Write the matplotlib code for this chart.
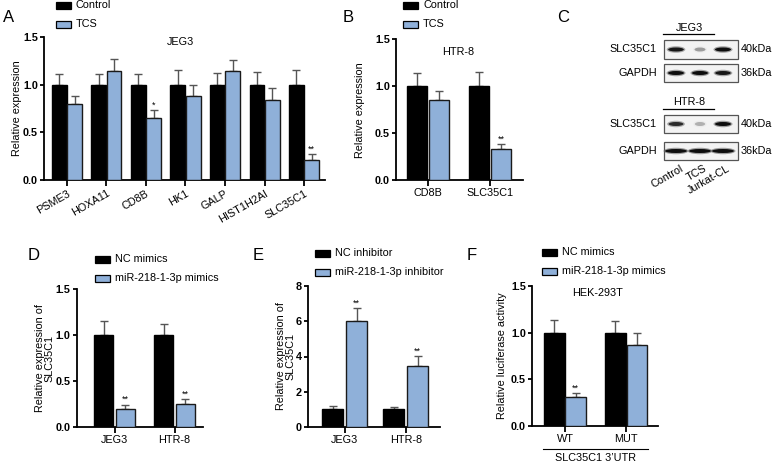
import matplotlib
matplotlib.use('Agg')
import matplotlib.pyplot as plt
from matplotlib.patches import Rectangle, Ellipse
import numpy as np

plt.rcParams['font.family'] = ['Liberation Sans', 'DejaVu Sans']

# ---------------- data ----------------
genes_A = ['PSME3', 'HOXA11', 'CD8B', 'HK1', 'GALP', 'HIST1H2AI', 'SLC35C1']
ctrl_A = [1.0, 1.0, 1.0, 1.0, 1.0, 1.0, 1.0]
ctrl_A_err = [0.11, 0.11, 0.11, 0.15, 0.12, 0.13, 0.15]
tcs_A = [0.80, 1.14, 0.655, 0.876, 1.14, 0.834, 0.21]
tcs_A_err = [0.083, 0.13, 0.075, 0.124, 0.115, 0.126, 0.06]
sig_A = ['', '', '*', '', '', '', '**']

genes_B = ['CD8B', 'SLC35C1']
ctrl_B = [1.0, 1.0]
ctrl_B_err = [0.135, 0.15]
tcs_B = [0.85, 0.33]
tcs_B_err = [0.10, 0.05]
sig_B = ['', '**']

cells = ['JEG3', 'HTR-8']
nc_mimic_D = [1.0, 1.0]
nc_mimic_D_err = [0.147, 0.12]
mimic_D = [0.20, 0.255]
mimic_D_err = [0.044, 0.045]
sig_D = ['**', '**']

nc_inh_E = [1.0, 1.0]
nc_inh_E_err = [0.17, 0.12]
inh_E = [6.0, 3.47]
inh_E_err = [0.73, 0.56]
sig_E = ['**', '**']

utr = ['WT', 'MUT']
nc_mimic_F = [1.0, 1.0]
nc_mimic_F_err = [0.14, 0.13]
mimic_F = [0.31, 0.87]
mimic_F_err = [0.045, 0.13]
sig_F = ['**', '']

blot_lanes = ['Control', 'TCS', 'Jurkat-CL']
jeg3_slc = [0.95, 0.30, 1.0]
jeg3_gapdh = [1.0, 1.0, 0.95]
htr8_slc = [0.85, 0.20, 1.0]
htr8_gapdh = [1.0, 1.0, 1.0]

# ---------------- layout ----------------
W, H = 777, 463
fig = plt.figure(figsize=(W / 100, H / 100), dpi=100)
BLUE = '#8fb0d9'
FS = 7.8


def ax_px(l, r, t, b):
    return fig.add_axes([l / W, 1 - b / H, (r - l) / W, (b - t) / H])


def style(ax, ylim, yticks, xlim, xlabels, rot=0):
    ax.set_ylim(*ylim)
    ax.set_yticks(yticks)
    ax.set_xlim(*xlim)
    ax.set_xticks(np.arange(len(xlabels)))
    if rot:
        ax.set_xticklabels(xlabels, rotation=rot, ha='right', rotation_mode='anchor', fontsize=FS)
    else:
        ax.set_xticklabels(xlabels, fontsize=FS)
    for s in ['top', 'right']:
        ax.spines[s].set_visible(False)
    for s in ['left', 'bottom']:
        ax.spines[s].set_linewidth(1.3)
    ax.tick_params(axis='y', direction='out', length=3, width=1.3, labelsize=FS, pad=1.5)
    ax.tick_params(axis='x', direction='out', length=4, width=1.3, labelsize=FS, pad=2)
    if yticks[-1] < 2:
        ax.set_yticklabels([f'{v:.1f}' for v in yticks])
    for t in ax.get_yticklabels():
        t.set_fontweight('bold')


def bars(ax, v1, e1, v2, e2, width, off, sig, fs_star=6.5):
    n = len(v1)
    x = np.arange(n)
    ax.bar(x - off, v1, width, color='black', edgecolor='black', lw=1.0, zorder=3)
    ax.bar(x + off, v2, width, color=BLUE, edgecolor='#1a1a1a', lw=1.0, zorder=3)
    ax.errorbar(x - off, v1, yerr=[np.zeros(n), e1], fmt='none', ecolor='#555555',
                elinewidth=1.0, capsize=3, capthick=1.0, zorder=2)
    ax.errorbar(x + off, v2, yerr=[np.zeros(n), e2], fmt='none', ecolor='#555555',
                elinewidth=1.0, capsize=3, capthick=1.0, zorder=2)
    for xi, v, e, s in zip(x + off, v2, e2, sig):
        if s:
            ax.annotate(s, (xi, v + e), xytext=(0, 0.3), textcoords='offset points',
                        ha='center', va='bottom', fontsize=fs_star)


# Panel A
axA = ax_px(44, 325, 37, 180)
bars(axA, ctrl_A, ctrl_A_err, tcs_A, tcs_A_err, 0.37, 0.195, sig_A)
style(axA, (0, 1.5), [0.0, 0.5, 1.0, 1.5], (-0.58, 6.53), genes_A, rot=30)
axA.text(0.484, 0.965, 'JEG3', transform=axA.transAxes, ha='center', va='center', fontsize=FS)

# Panel B
axB = ax_px(396, 523, 39, 180)
bars(axB, ctrl_B, ctrl_B_err, tcs_B, tcs_B_err, 0.32, 0.18, sig_B)
style(axB, (0, 1.5), [0.0, 0.5, 1.0, 1.5], (-0.52, 1.53), genes_B)
axB.text(0.49, 0.91, 'HTR-8', transform=axB.transAxes, ha='center', va='center', fontsize=FS)

# Panel D
axD = ax_px(77, 203, 289, 427)
bars(axD, nc_mimic_D, nc_mimic_D_err, mimic_D, mimic_D_err, 0.32, 0.183, sig_D)
style(axD, (0, 1.5), [0.0, 0.5, 1.0, 1.5], (-0.625, 1.475), cells)

# Panel E
axE = ax_px(308, 440, 286, 427)
bars(axE, nc_inh_E, nc_inh_E_err, inh_E, inh_E_err, 0.34, 0.195, sig_E)
style(axE, (0, 8), [0, 2, 4, 6, 8], (-0.6, 1.56), cells)

# Panel F
axF = ax_px(532, 658, 286, 426)
bars(axF, nc_mimic_F, nc_mimic_F_err, mimic_F, mimic_F_err, 0.34, 0.175, sig_F)
style(axF, (0, 1.5), [0.0, 0.5, 1.0, 1.5], (-0.54, 1.52), utr)
axF.text(0.52, 0.95, 'HEK-293T', transform=axF.transAxes, ha='center', va='center', fontsize=FS)
axF.plot([-0.36, 1.36], [-0.164, -0.164], transform=axF.get_xaxis_transform(),
         color='black', lw=0.8, clip_on=False)
axF.text(0.5, -0.23, 'SLC35C1 3\u2019UTR', transform=axF.get_xaxis_transform(),
         ha='center', va='center', fontsize=FS)

# ---------------- overlay (pixel coordinates) ----------------
ov = fig.add_axes([0, 0, 1, 1])
ov.set_xlim(0, W)
ov.set_ylim(H, 0)
ov.set_axis_off()


def legend_px(x, ys, labels, colors):
    for y, lab, col in zip(ys, labels, colors):
        ov.add_patch(Rectangle((x, y - 3.5), 15, 7, facecolor=col, edgecolor='black', lw=0.9))
        ov.text(x + 20, y, lab, ha='left', va='center', fontsize=FS)


legend_px(56, [5, 24], ['Control', 'TCS'], ['black', BLUE])
legend_px(403, [5, 24], ['Control', 'TCS'], ['black', BLUE])
legend_px(95, [259, 278], ['NC mimics', 'miR-218-1-3p mimics'], ['black', BLUE])
legend_px(315, [253, 272], ['NC inhibitor', 'miR-218-1-3p inhibitor'], ['black', BLUE])
legend_px(542, [252, 271], ['NC mimics', 'miR-218-1-3p mimics'], ['black', BLUE])

# panel letters
for lab, x, y in [('A', 3, 18), ('B', 343, 18), ('C', 557, 18), ('D', 28, 256), ('E', 253, 256), ('F', 467, 256)]:
    ov.text(x, y, lab, ha='left', va='center', fontsize=12)

# y labels
ov.text(17, 108, 'Relative expression', rotation=90, ha='center', va='center', fontsize=FS)
ov.text(360, 110, 'Relative expression', rotation=90, ha='center', va='center', fontsize=FS)
ov.text(45, 358, 'Relative expression of\nSLC35C1', rotation=90, ha='center', va='center',
        fontsize=FS, linespacing=0.95)
ov.text(286, 356, 'Relative expression of\nSLC35C1', rotation=90, ha='center', va='center',
        fontsize=FS, linespacing=0.95)
ov.text(502, 356, 'Relative luciferase activity', rotation=90, ha='center', va='center', fontsize=FS)

# ---------------- panel C: western blot ----------------
lane_x = [676, 700, 723]


def blot(y_top, y_bot, vals, bw, name, kda):
    ov.add_patch(Rectangle((664, y_top), 74, y_bot - y_top, facecolor='#f3f3f3',
                           edgecolor='#555555', lw=0.9))
    yc = (y_top + y_bot) / 2
    for xl, v in zip(lane_x, vals):
        w = bw * (0.55 + 0.45 * v)
        g = 0.05 + 0.8 * (1 - v)
        ov.add_patch(Ellipse((xl, yc), w + 3, 6.5, facecolor=str(min(g + 0.35, 0.9)),
                             edgecolor='none', alpha=0.6))
        ov.add_patch(Ellipse((xl, yc), w, 4.0, facecolor=str(g), edgecolor='none'))
    ov.text(657, yc, name, ha='right', va='center', fontsize=FS)
    ov.text(741, yc, kda, ha='left', va='center', fontsize=FS)


ov.text(689, 28, 'JEG3', ha='center', va='center', fontsize=FS)
ov.plot([663, 714], [33.5, 33.5], color='black', lw=0.9)
blot(40, 59, jeg3_slc, 16, 'SLC35C1', '40kDa')
blot(64, 82, jeg3_gapdh, 16, 'GAPDH', '36kDa')
ov.text(689, 102, 'HTR-8', ha='center', va='center', fontsize=FS)
ov.plot([663, 714], [109, 109], color='black', lw=0.9)
blot(115, 133, htr8_slc, 16, 'SLC35C1', '40kDa')
blot(142, 160, htr8_gapdh, 22, 'GAPDH', '36kDa')
for xl, lab in zip(lane_x, blot_lanes):
    ov.text(xl + 4, 163, lab, rotation=30, ha='right', va='top', rotation_mode='anchor', fontsize=FS)

fig.savefig('out.png', dpi=100)
